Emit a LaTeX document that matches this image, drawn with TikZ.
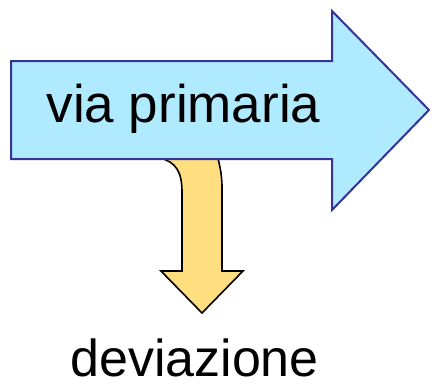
\documentclass[tikz,border=0pt]{standalone}
\usepackage{fontspec}
\setmainfont{Liberation Sans}
\definecolor{mainfill}{HTML}{B0EAFF}
\definecolor{mainline}{HTML}{333399}
\definecolor{branchfill}{HTML}{FFDE7F}
\begin{document}
\begin{tikzpicture}[x=1pt,y=-1pt,
  mainarrow/.style={fill=mainfill,draw=mainline,line width=2pt,line join=miter},
  brancharrow/.style={fill=branchfill,draw=black,line width=1.6pt,line join=miter},
  label/.style={inner sep=0pt,anchor=base,text depth=0pt}]
\useasboundingbox (0,0) rectangle (432,384);
% branch arrow (behind)
\draw[brancharrow] (160,140) -- (160,158)
  .. controls (176,162) and (182,172) .. (182,192)
  -- (182,271) -- (161,271) -- (202,313) -- (243,271) -- (222,271) -- (222,188)
  .. controls (222,172) and (219,164) .. (218,158) -- (218,140) -- cycle;
% main arrow
\draw[mainarrow] (11,61) -- (332,61) -- (332,11) -- (429,110) -- (332,210) -- (332,159) -- (11,159) -- cycle;
\node[label,font=\fontsize{53}{60}\selectfont] (via) at (183.5,122) {via primaria};
\node[label,font=\fontsize{52}{60}\selectfont] (dev) at (194.5,376.7) {deviazione};
\end{tikzpicture}
\end{document}
